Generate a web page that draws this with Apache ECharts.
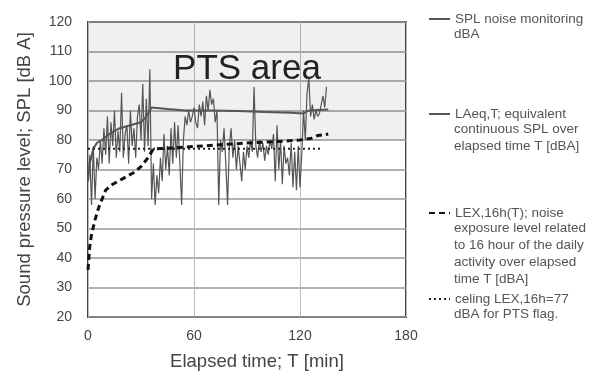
<!DOCTYPE html>
<html>
<head>
<meta charset="utf-8">
<script src="https://cdn.jsdelivr.net/npm/echarts@6/dist/echarts.min.js"></script>
<style>
  html, body { margin: 0; padding: 0; background: #fff; }
  #chart { width: 602px; height: 376px; }
</style>
</head>
<body>
<div id="chart"></div>
<script>
// SPL noise monitoring, one reading per minute starting at T = 0
var splValues = [66, 75, 58, 78, 60, 74, 70, 80, 72, 84,
  75, 88, 72, 86, 78, 90, 74, 83, 76, 96,
  74, 82, 85, 72, 90, 78, 84, 74, 88, 92,
  80, 99, 76, 94, 78, 104, 60, 72, 58, 68,
  62, 74, 66, 82, 70, 78, 68, 84, 72, 86,
  74, 85, 72, 58, 80, 88, 85, 90, 86, 88,
  91, 86, 84, 92, 88, 93, 85, 95, 90, 97,
  92, 94, 86, 90, 58, 80, 76, 84, 72, 58,
  78, 84, 74, 80, 70, 78, 72, 66, 76, 70,
  78, 74, 80, 76, 98, 78, 74, 80, 76, 79,
  73, 78, 75, 80, 77, 82, 66, 85, 70, 80,
  65, 78, 72, 74, 68, 79, 64, 76, 63, 78,
  64, 75, 90, 80, 96, 101, 88, 92, 87, 90,
  88, 89, 92, 95, 91, 98];

// LAeq,T
var laeqTime = [0, 1, 3, 5, 8, 12, 18, 24, 30, 33, 36, 45, 55, 70, 85, 100, 115, 122, 125, 130, 136];
var laeqValues = [66, 72, 77, 79, 80, 82, 84, 85, 86, 88, 91, 90.5, 90, 90, 89.8, 89.5, 89.2, 89, 90, 90.2, 90.3];

// LEX,16h(T)
var lexTime = [0, 1, 2, 4, 6, 8, 10, 14, 20, 26, 30, 34, 37, 45, 60, 75, 90, 105, 120, 126, 130, 136];
var lexValues = [36, 44, 48, 53, 57, 60, 63, 65, 67, 69, 71, 74, 77, 77.2, 77.8, 78.4, 79, 79.4, 80, 80.5, 81.5, 82];

// ceiling LEX,16h = 77
var ceilTime = [0, 133];
var ceilValues = [77, 77];

var yMin = 20, yMax = 120, yStep = 10;
var ptsFrom = 80, ptsTo = 120;

var names = [
  'SPL noise monitoring\ndBA',
  'LAeq,T; equivalent\ncontinuous SPL over\nelapsed time T [dBA]',
  'LEX,16h(T); noise\nexposure level related\nto 16 hour of the daily\nactivity over elapsed\ntime T [dBA]',
  'celing LEX,16h=77\ndBA for PTS flag.'
];
// y of the first text line of each legend entry
var legendRows = [17, 112, 211, 297];
var lineGap = 17;
var legendFont = 13.5;

function pairs(xs, ys) {
  var out = [];
  for (var i = 0; i < ys.length; i++) out.push([xs ? xs[i] : i, ys[i]]);
  return out;
}

var chart = echarts.init(document.getElementById('chart'));

var legends = [];
var graphics = [];
for (var i = 0; i < names.length; i++) {
  legends.push({
    data: [names[i]],
    left: 428,
    top: legendRows[i] - 5,
    padding: 0,
    itemWidth: 21,
    itemHeight: 10,
    itemStyle: { opacity: 0 },
    formatter: function (n) { return n.split('\n')[0]; },
    textStyle: { fontFamily: 'Liberation Sans', fontSize: legendFont, color: '#555' },
    selectedMode: false
  });
  graphics.push({
    type: 'text',
    left: 454,
    top: legendRows[i] + lineGap / 2,
    style: { text: names[i].split('\n').slice(1).join('\n'), font: legendFont + 'px "Liberation Sans"', fill: '#555', lineHeight: lineGap }
  });
}

var option = {
  animation: false,
  grid: { left: 88, top: 22, right: 196, bottom: 59, show: true, borderColor: '#444', borderWidth: 2, backgroundColor: 'transparent' },
  legend: legends,
  graphic: graphics,
  xAxis: {
    type: 'value', min: 0, max: 180, interval: 60,
    name: 'Elapsed time; T [min]', nameLocation: 'middle', nameGap: 35,
    nameTextStyle: { fontFamily: 'Liberation Sans', fontSize: 18.5, color: '#444', padding: [0, 0, 0, 20] },
    axisLine: { show: false }, axisTick: { show: false },
    axisLabel: { fontFamily: 'Liberation Sans', fontSize: 14, color: '#444', margin: 12 },
    splitLine: { show: true, lineStyle: { color: '#bbb', width: 1 } }
  },
  yAxis: {
    type: 'value', min: yMin, max: yMax, interval: yStep,
    name: 'Sound pressure level; SPL [dB A]', nameLocation: 'middle', nameGap: 54,
    nameTextStyle: { fontFamily: 'Liberation Sans', fontSize: 18.5, color: '#444' },
    axisLine: { show: false }, axisTick: { show: false },
    axisLabel: { fontFamily: 'Liberation Sans', fontSize: 14, color: '#444', margin: 16 },
    splitLine: { show: true, lineStyle: { color: '#999', width: 1.5 } }
  },
  series: [{
    name: names[0], type: 'line', symbol: 'none', z: 2,
    data: pairs(null, splValues),
    lineStyle: { color: '#555', width: 1.2 },
    itemStyle: { color: '#555' },
    markArea: {
      silent: true,
      itemStyle: { color: 'rgba(0,0,0,0.06)' },
      label: { show: true, position: 'insideTop', distance: 30, fontFamily: 'Liberation Sans', fontSize: 35, color: '#222' },
      data: [[{ name: 'PTS area', yAxis: ptsFrom, xAxis: 0 }, { yAxis: ptsTo, xAxis: 180 }]]
    }
  }, {
    name: names[1], type: 'line', symbol: 'none', z: 3,
    data: pairs(laeqTime, laeqValues),
    lineStyle: { color: '#555', width: 2 },
    itemStyle: { color: '#555' }
  }, {
    name: names[2], type: 'line', symbol: 'none', z: 4,
    data: pairs(lexTime, lexValues),
    lineStyle: { color: '#111', width: 3, type: [6, 4] },
    itemStyle: { color: '#111' }
  }, {
    name: names[3], type: 'line', symbol: 'none', z: 4,
    data: pairs(ceilTime, ceilValues),
    lineStyle: { color: '#222', width: 2, type: [2, 3] },
    itemStyle: { color: '#222' }
  }]
};

chart.setOption(option);
</script>
</body>
</html>
